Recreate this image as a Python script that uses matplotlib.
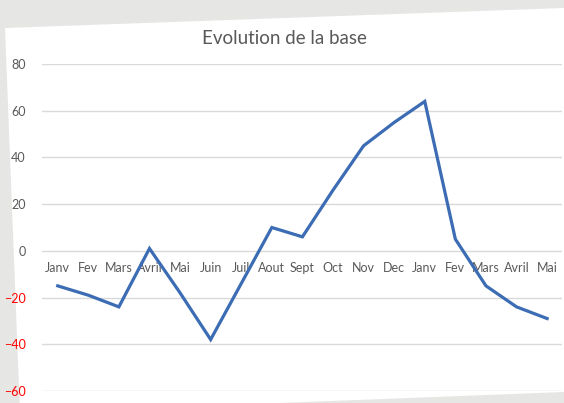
import matplotlib.pyplot as plt
from matplotlib.patches import Polygon

plt.rcParams['font.family'] = ['Lato', 'DejaVu Sans']

# donnees
mois = ['Janv', 'Fev', 'Mars', 'Avril', 'Mai', 'Juin', 'Juil', 'Aout', 'Sept',
        'Oct', 'Nov', 'Dec', 'Janv', 'Fev', 'Mars', 'Avril', 'Mai']
valeurs = [-15, -19, -24, 1, -18, -38, -14, 10, 6, 26, 45, 55, 64, 5, -15, -24, -29]
yticks = [-60, -40, -20, 0, 20, 40, 60, 80]

gris = '#595959'

fig = plt.figure(figsize=(5.64, 4.03), dpi=100)
fig.patch.set_facecolor('#e6e6e4')
# fond blanc de la capture (legerement penche)
fond = Polygon([(5, 375), (564, 395), (564, 11), (20, -10)], closed=True,
               transform=None, facecolor='white', edgecolor='none', zorder=-5)
fig.patches.append(fond)

ax = fig.add_axes([0.0752, 0.03, 0.922, 0.811])
ax.set_facecolor('none')
x = list(range(len(mois)))
ax.plot(x, valeurs, color='#3b6cb4', lw=2.3, solid_joinstyle='miter', zorder=3)

ax.set_xlim(-0.5, len(mois) - 0.5)
ax.set_ylim(yticks[0], yticks[-1])
ax.set_yticks(yticks)
ax.yaxis.grid(True, color='#d9d9d9', lw=1)
ax.set_axisbelow(True)

ax.set_xticks(x)
ax.set_xticklabels(mois)
ax.spines['bottom'].set_position(('data', 0))
for s in ax.spines.values():
    s.set_visible(False)
ax.tick_params(axis='x', length=0, pad=8, labelsize=9, labelcolor=gris)
ax.tick_params(axis='y', length=0, pad=12, labelsize=9)
for lab, v in zip(ax.get_yticklabels(), yticks):
    lab.set_color('#ff0000' if v < 0 else gris)

fig.text(0.505, 0.905, 'Evolution de la base', ha='center', va='center',
         fontsize=13.5, color=gris)

plt.savefig('out.png', dpi=100, facecolor=fig.get_facecolor())
